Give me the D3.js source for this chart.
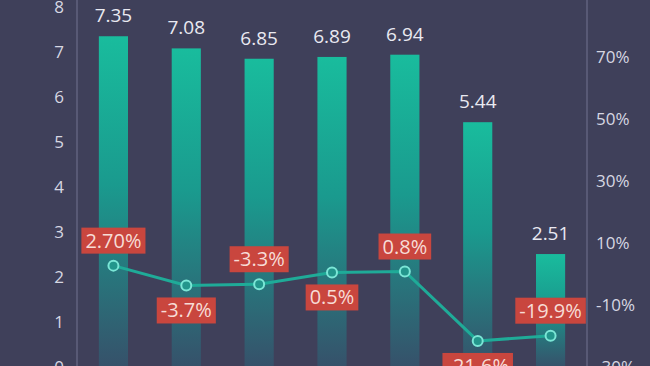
<!DOCTYPE html>
<html lang="en">
<head>
  <meta charset="UTF-8">
  <title>Bars with growth line</title>
  <script src="https://d3js.org/d3.v7.min.js"></script>
  <style>
    html, body {
      margin: 0;
      padding: 0;
      background: #3f405a;
      overflow: hidden;
    }
    svg {
      display: block;
      font-family: "Open Sans", "Noto Sans", sans-serif;
    }
  </style>
</head>
<body>

<svg id="chart" width="650" height="366"></svg>

<script>
// Data
const categories = ["1", "2", "3", "4", "5", "6", "7"];
const values = [7.35, 7.08, 6.85, 6.89, 6.94, 5.44, 2.51];
const growth = [2.70, -3.7, -3.3, 0.5, 0.8, -21.6, -19.9];
const growthLabels = ["2.70%", "-3.7%", "-3.3%", "0.5%", "0.8%", "-21.6%", "-19.9%"];
const leftTicks = [0, 1, 2, 3, 4, 5, 6, 7, 8];
const rightTicks = [-30, -10, 10, 30, 50, 70];

const width = 650, height = 366;
const plotLeft = 77, plotRight = 587;

const svg = d3.select("#chart");

// Gradient for the bars (per bar, top bright -> bottom fades)
const defs = svg.append("defs");
const barGradient = defs.append("linearGradient")
  .attr("id", "barGradient")
  .attr("x1", "0%").attr("y1", "0%")
  .attr("x2", "0%").attr("y2", "100%");
barGradient.append("stop").attr("offset", "0%").attr("stop-color", "#19bc9d");
barGradient.append("stop").attr("offset", "45%").attr("stop-color", "#1a9a8e");
barGradient.append("stop").attr("offset", "100%").attr("stop-color", "#36516a");

// Scales
const x = d3.scaleBand()
  .domain(categories)
  .range([plotLeft, plotRight])
  .paddingInner(0.6)
  .paddingOuter(0.3);

const y = d3.scaleLinear()
  .domain([0, 8])
  .range([367, 7]);

const y2 = d3.scaleLinear()
  .domain([-30, 90])
  .range([367, -5]);

// Axes
const leftAxis = svg.append("g")
  .attr("transform", `translate(${plotLeft},0)`)
  .call(d3.axisLeft(y).tickValues(leftTicks).tickSize(0).tickPadding(13));

const rightAxis = svg.append("g")
  .attr("transform", `translate(${plotRight},0)`)
  .call(d3.axisRight(y2).tickValues(rightTicks).tickSize(0).tickPadding(9)
    .tickFormat(d => d + "%"));

[leftAxis, rightAxis].forEach(g => {
  g.select(".domain").remove();
  g.selectAll("text")
    .attr("fill", "#d6d7e2")
    .style("font-size", "17px")
    .style("font-family", "\"Open Sans\", sans-serif");
});
leftAxis.selectAll("text").attr("text-anchor", "middle").attr("dx", "-5");

// Vertical axis lines across the full height
svg.append("line")
  .attr("x1", plotLeft).attr("x2", plotLeft)
  .attr("y1", 0).attr("y2", height)
  .attr("stroke", "#727390").attr("stroke-width", 1);
svg.append("line")
  .attr("x1", plotRight).attr("x2", plotRight)
  .attr("y1", 0).attr("y2", height)
  .attr("stroke", "#727390").attr("stroke-width", 1);

// Bars
svg.append("g")
  .selectAll("rect")
  .data(values)
  .join("rect")
  .attr("x", (d, i) => x(categories[i]))
  .attr("y", d => y(d))
  .attr("width", x.bandwidth())
  .attr("height", d => y(0) - y(d))
  .attr("fill", "url(#barGradient)");

// Bar value labels
svg.append("g")
  .selectAll("text")
  .data(values)
  .join("text")
  .attr("x", (d, i) => x(categories[i]) + x.bandwidth() / 2)
  .attr("y", d => y(d) - 14)
  .attr("text-anchor", "middle")
  .attr("fill", "#e9e9f1")
  .style("font-size", "19px")
  .text(d => d.toFixed(2));

// Growth line
const cx = (d, i) => x(categories[i]) + x.bandwidth() / 2;
const line = d3.line()
  .x((d, i) => cx(d, i))
  .y(d => y2(d));

svg.append("path")
  .datum(growth)
  .attr("fill", "none")
  .attr("stroke", "#1fab98")
  .attr("stroke-width", 3)
  .attr("d", line);

svg.append("g")
  .selectAll("circle")
  .data(growth)
  .join("circle")
  .attr("cx", cx)
  .attr("cy", d => y2(d))
  .attr("r", 5)
  .attr("fill", "#23968c")
  .attr("stroke", "#7be6d6")
  .attr("stroke-width", 2);

// Growth labels in red boxes, alternating above / below
const labels = svg.append("g")
  .selectAll("g")
  .data(growth)
  .join("g")
  .attr("transform", (d, i) => {
    const above = i % 2 === 0;
    const cy = above ? y2(d) - 12 - 13 : y2(d) + 12 + 13;
    return `translate(${cx(d, i)},${cy})`;
  });

labels.append("text")
  .attr("text-anchor", "middle")
  .attr("dy", "0.35em")
  .attr("fill", "#f7dcd6")
  .style("font-size", "20px")
  .text((d, i) => growthLabels[i]);

labels.each(function() {
  const g = d3.select(this);
  const bb = g.select("text").node().getBBox();
  g.insert("rect", "text")
    .attr("x", bb.x - 4)
    .attr("y", -13)
    .attr("width", bb.width + 8)
    .attr("height", 26)
    .attr("fill", "#c9463e");
});
</script>

</body>
</html>
